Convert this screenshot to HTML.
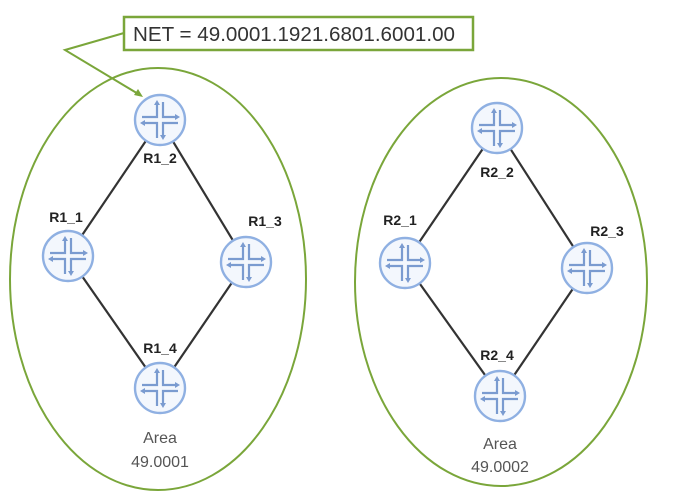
<!DOCTYPE html>
<html><head><meta charset="utf-8"><style>
body{margin:0;background:#fff;}
svg{display:block;font-family:"Liberation Sans",sans-serif;}
</style></head><body>
<svg width="695" height="492" viewBox="0 0 695 492" xmlns="http://www.w3.org/2000/svg">
<defs>
<g id="rt">
<circle r="25" fill="#f3f7fd" stroke="#8fb0e2" stroke-width="2.4"/>
<g stroke="#7a9bd0" stroke-width="2.2" fill="none">
<path d="M-3,-16 V-3 H-18"/>
<path d="M3,-18 V-3 H16"/>
<path d="M-3,18 V3 H-16"/>
<path d="M3,16 V3 H18"/>
</g>
<g fill="#7a9bd0">
<path d="M-3,-20 l-3,5 h6z"/>
<path d="M20,-3 l-5,-3 v6z"/>
<path d="M-20,3 l5,-3 v6z"/>
<path d="M3,20 l-3,-5 h6z"/>
</g>
</g>
</defs>
<ellipse cx="158" cy="279" rx="148" ry="211" fill="none" stroke="#7aa63a" stroke-width="2"/>
<ellipse cx="501" cy="282" rx="146" ry="204" fill="none" stroke="#7aa63a" stroke-width="2"/>
<rect x="124" y="17" width="349" height="33" fill="#fff" stroke="#7aa63a" stroke-width="2.5"/>
<text x="133" y="41" font-size="20" textLength="322" lengthAdjust="spacingAndGlyphs" fill="#333">NET = 49.0001.1921.6801.6001.00</text>
<polyline points="124,33 65,50 140,95" fill="none" stroke="#7aa63a" stroke-width="2"/>
<path d="M143,97 l-9,-2 l4,-6z" fill="#7aa63a"/>
<g stroke="#333" stroke-width="2.2">
<line x1="160" y1="120" x2="68" y2="256"/><line x1="160" y1="120" x2="246" y2="262"/>
<line x1="68" y1="256" x2="160" y2="388"/><line x1="246" y1="262" x2="160" y2="388"/>
<line x1="497" y1="128" x2="405" y2="263"/><line x1="497" y1="128" x2="587" y2="268"/>
<line x1="405" y1="263" x2="500" y2="396"/><line x1="587" y1="268" x2="500" y2="396"/>
</g>
<use href="#rt" x="160" y="120"/><use href="#rt" x="68" y="256"/><use href="#rt" x="246" y="262"/><use href="#rt" x="160" y="388"/>
<use href="#rt" x="497" y="128"/><use href="#rt" x="405" y="263"/><use href="#rt" x="587" y="268"/><use href="#rt" x="500" y="396"/>
<g font-size="14" font-weight="bold" fill="#222" text-anchor="middle">
<text x="160" y="163">R1_2</text><text x="66" y="222">R1_1</text><text x="265" y="226">R1_3</text><text x="160" y="353">R1_4</text>
<text x="497" y="177">R2_2</text><text x="400" y="225">R2_1</text><text x="607" y="236">R2_3</text><text x="497" y="360">R2_4</text>
</g>
<g font-size="16" fill="#555" text-anchor="middle">
<text x="160" y="443">Area</text><text x="160" y="467">49.0001</text>
<text x="500" y="449">Area</text><text x="500" y="472">49.0002</text>
</g>
</svg>
</body></html>
